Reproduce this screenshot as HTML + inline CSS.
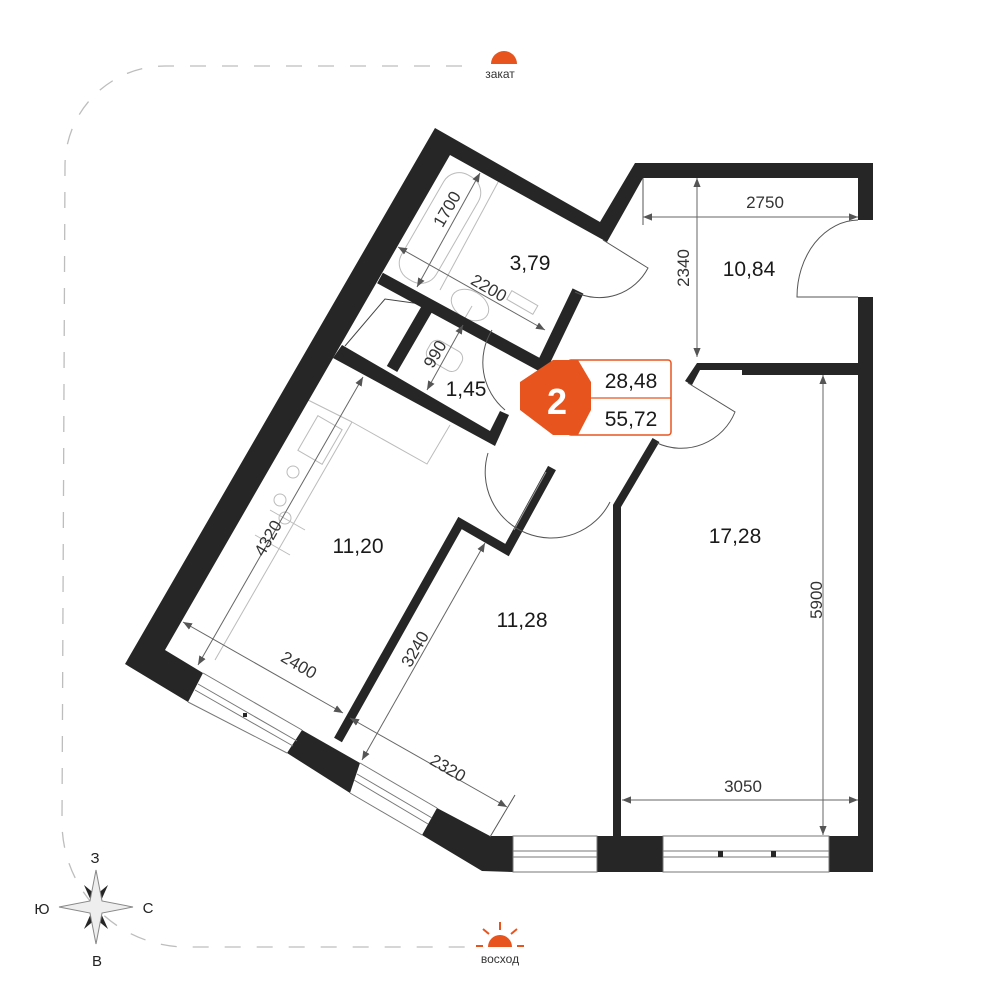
<!DOCTYPE html>
<html><head><meta charset="utf-8"><style>
html,body{margin:0;padding:0;background:#fff;}
svg{display:block;}
text{font-family:"Liberation Sans","DejaVu Sans",sans-serif;}
</style></head><body>
<svg width="1000" height="1000" viewBox="0 0 1000 1000" xmlns="http://www.w3.org/2000/svg">
<rect width="1000" height="1000" fill="#fff"/>
<!-- dashed outline -->
<path d="M462,66 L165,66 A100,100 0 0 0 65,166 L62,820 A125,125 0 0 0 185,947 L470,947" fill="none" stroke="#bdbdbd" stroke-width="1.3" stroke-dasharray="16,16"/>
<!-- sun zakat -->
<path d="M491,64 A13,13 0 0 1 517,64 Z" fill="#E8541E"/>
<text x="500" y="78" font-size="12" text-anchor="middle" fill="#333">закат</text>
<!-- sun voskhod -->
<path d="M488,947 A12,12 0 0 1 512,947 Z" fill="#E8541E"/>
<g stroke="#E8541E" stroke-width="2">
<line x1="500" y1="922" x2="500" y2="930"/>
<line x1="483" y1="929" x2="489" y2="934"/>
<line x1="517" y1="929" x2="511" y2="934"/>
<line x1="476" y1="946" x2="483" y2="946"/>
<line x1="517" y1="946" x2="524" y2="946"/>
</g>
<text x="500" y="963" font-size="12" text-anchor="middle" fill="#333">восход</text>
<!-- compass -->
<g transform="translate(96,907)">
<polygon points="0,-12 12,-22 4,-4" fill="#262626"/>
<polygon points="0,-12 -12,-22 -4,-4" fill="#262626"/>
<polygon points="0,12 12,22 4,4" fill="#262626"/>
<polygon points="0,12 -12,22 -4,4" fill="#262626"/>
<polygon points="0,-37 6,-6 37,0 6,6 0,37 -6,6 -37,0 -6,-6" fill="#eeeeee" stroke="#888" stroke-width="1"/>
</g>
<text x="95" y="863" font-size="15" text-anchor="middle" fill="#222">З</text>
<text x="97" y="966" font-size="15" text-anchor="middle" fill="#222">В</text>
<text x="42" y="914" font-size="15" text-anchor="middle" fill="#222">Ю</text>
<text x="148" y="913" font-size="15" text-anchor="middle" fill="#222">С</text>

<!-- fixtures light gray -->
<g fill="none" stroke="#bbb" stroke-width="1">
<rect x="-20" y="-60" width="40" height="120" rx="18" transform="translate(440,228) rotate(30)"/>
<line x1="503" y1="173" x2="440" y2="290"/>
<ellipse cx="470" cy="305" rx="20" ry="14" transform="rotate(30 470 305)"/>
<line x1="465" y1="318" x2="472" y2="306"/>
<rect x="-10" y="-5" width="30" height="10" transform="translate(518,300) rotate(30)"/>
<rect x="-18" y="-10" width="36" height="22" rx="8" transform="translate(445,355) rotate(30)"/>
<polyline points="345,346 385,299 428,305" stroke="#444"/>
<line x1="308" y1="400" x2="352" y2="422"/>
<line x1="352" y1="422" x2="215" y2="660"/>
<polyline points="352,422 427,464 450,425"/>
<rect x="-14" y="-20" width="28" height="40" transform="translate(320,440) rotate(30)"/>
<line x1="270" y1="510" x2="305" y2="530"/>
<line x1="255" y1="535" x2="290" y2="555"/>
<circle cx="293" cy="472" r="6"/>
<circle cx="280" cy="500" r="6"/>
<circle cx="285" cy="518" r="6"/>
</g>

<!-- walls -->
<g fill="#262626">
<polygon points="435,128 600,222 635,163 873,163 873,220 858,220 858,178 643,178 607,242 450,155 165,650 203,673 188,702 125,664"/>
<polygon points="858,297 873,297 873,872 829,872 829,836 858,836"/>
<polygon points="597,836 663,836 663,872 597,872"/>
<polygon points="437,808 490,836 513,836 513,872 482,871 422,835"/>
<polygon points="302,730 360,763 350,793 287,753"/>
<polygon points="342,345 490,431 500,411 509,415 495,446 333,358"/>
<polygon points="697,363 858,363 858,375 742,375 742,370 700,370 692,385 685,381"/>
</g>
<g fill="none" stroke="#262626" stroke-linejoin="miter">
<polyline points="380,278 542,366 578,291" stroke-width="12"/>
<line x1="428" y1="307" x2="392" y2="369" stroke-width="12"/>
<polyline points="338,740 460,523 507,550 552,468" stroke-width="9"/>
<polyline points="656,440 617,506 617,836" stroke-width="8"/>
</g>
<line x1="546" y1="472" x2="514" y2="530" stroke="#999" stroke-width="1"/>

<!-- windows -->
<g stroke="#777" stroke-width="1" fill="none">
<line x1="203" y1="673" x2="302" y2="730"/>
<line x1="188" y1="702" x2="287" y2="753"/>
<line x1="198" y1="684" x2="297" y2="741"/>
<line x1="195" y1="690" x2="293" y2="746"/>
<line x1="360" y1="763" x2="437" y2="808"/>
<line x1="350" y1="793" x2="422" y2="835"/>
<line x1="357" y1="774" x2="432" y2="818"/>
<line x1="354" y1="780" x2="428" y2="824"/>
<rect x="513" y="836" width="84" height="36"/>
<line x1="513" y1="851" x2="597" y2="851"/>
<line x1="513" y1="857" x2="597" y2="857"/>
<rect x="663" y="836" width="166" height="36"/>
<line x1="663" y1="851" x2="829" y2="851"/>
<line x1="663" y1="857" x2="829" y2="857"/>
</g>
<g fill="#262626"><rect x="243" y="713" width="4" height="4"/><rect x="718" y="851" width="5" height="6"/><rect x="771" y="851" width="5" height="6"/></g>

<!-- doors -->
<g fill="none" stroke="#555" stroke-width="1">
<path d="M603,240 L648,268 A55,55 0 0 1 575,292"/>
<path d="M858,297 L797,297 A62,77 0 0 1 858,220"/>
<path d="M492,330 A62,62 0 0 0 505,410"/>
<path d="M488,453 A66,66 0 0 0 610,502"/>
<path d="M688,383 L735,412 A58,58 0 0 1 657,443"/>
<line x1="515" y1="795" x2="490" y2="837"/>
<line x1="643" y1="178" x2="643" y2="225"/>
</g>

<!-- dimension lines -->
<defs><marker id="a" viewBox="0 0 10 10" refX="10" refY="5" markerWidth="9" markerHeight="9" orient="auto-start-reverse" markerUnits="userSpaceOnUse"><path d="M0,1 L10,5 L0,9 Z" fill="#555"/></marker></defs>
<g stroke="#666" stroke-width="1" marker-start="url(#a)" marker-end="url(#a)">
<line x1="480" y1="173" x2="417" y2="287"/>
<line x1="398" y1="247" x2="545" y2="330"/>
<line x1="463" y1="325" x2="427" y2="390"/>
<line x1="363" y1="377" x2="198" y2="665"/>
<line x1="183" y1="622" x2="343" y2="713"/>
<line x1="485" y1="543" x2="362" y2="760"/>
<line x1="350" y1="718" x2="507" y2="807"/>
<line x1="643" y1="217" x2="858" y2="217"/>
<line x1="697" y1="178" x2="697" y2="357"/>
<line x1="823" y1="375" x2="823" y2="835"/>
<line x1="622" y1="800" x2="858" y2="800"/>
</g>
<g font-size="17" fill="#333" text-anchor="middle">
<text transform="translate(452,212) rotate(-60)">1700</text>
<text transform="translate(486,293) rotate(30)">2200</text>
<text transform="translate(440,357) rotate(-60)">990</text>
<text transform="translate(273,541) rotate(-60)">4320</text>
<text transform="translate(296,670) rotate(30)">2400</text>
<text transform="translate(420,652) rotate(-60)">3240</text>
<text transform="translate(445,773) rotate(30)">2320</text>
<text x="765" y="208">2750</text>
<text transform="translate(689,268) rotate(-90)" >2340</text>
<text transform="translate(822,600) rotate(-90)">5900</text>
<text x="743" y="792">3050</text>
</g>

<!-- room labels -->
<g font-size="21" fill="#1a1a1a" text-anchor="middle">
<text x="530" y="270">3,79</text>
<text x="749" y="276">10,84</text>
<text x="466" y="396">1,45</text>
<text x="358" y="553">11,20</text>
<text x="522" y="627">11,28</text>
<text x="735" y="543">17,28</text>
</g>

<!-- badge -->
<rect x="568" y="360" width="103" height="75" rx="3" fill="#fff" stroke="#E8541E" stroke-width="1.5"/>
<line x1="590" y1="398" x2="671" y2="398" stroke="#E8541E" stroke-width="1.2"/>
<polygon points="553,360 578,360 591,382 591,410 578,435 553,435 520,410 520,382" fill="#E8541E"/>
<text x="557" y="414" font-size="36" font-weight="bold" fill="#fff" text-anchor="middle">2</text>
<text x="631" y="388" font-size="21" fill="#1a1a1a" text-anchor="middle">28,48</text>
<text x="631" y="426" font-size="21" fill="#1a1a1a" text-anchor="middle">55,72</text>
</svg>
</body></html>
